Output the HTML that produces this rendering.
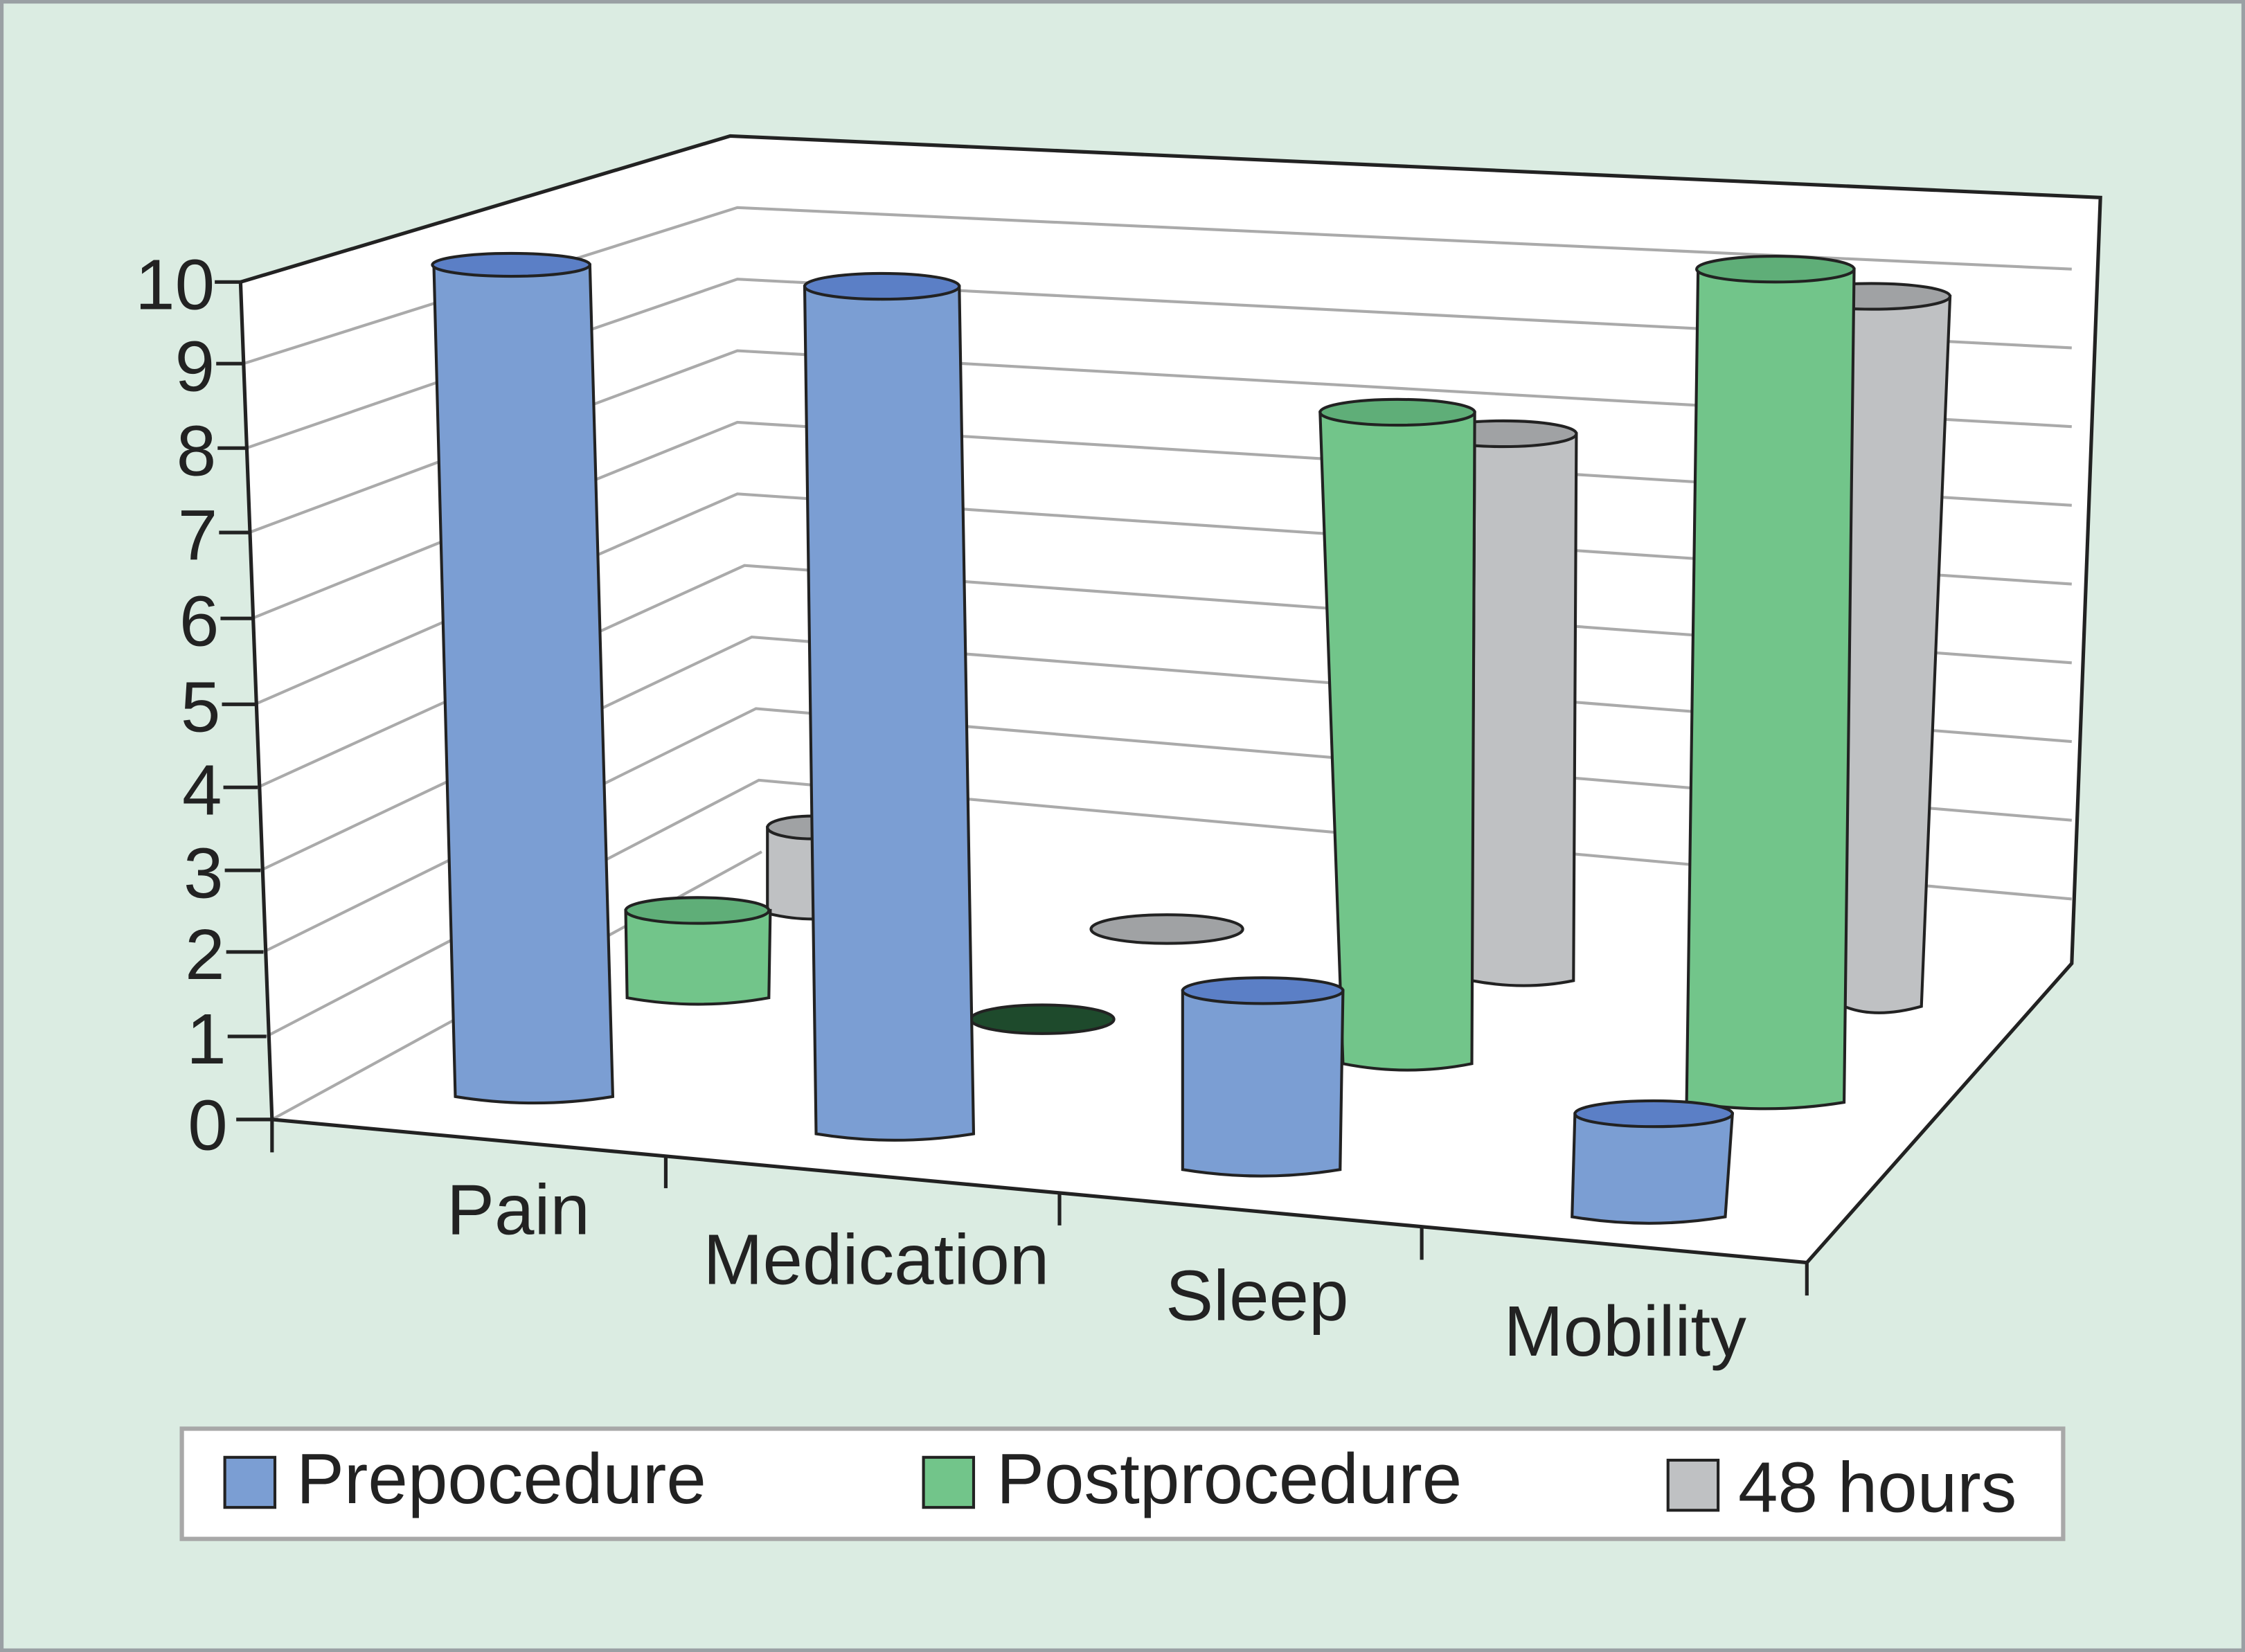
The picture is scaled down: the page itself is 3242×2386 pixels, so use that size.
<!DOCTYPE html>
<html><head><meta charset="utf-8"><style>html,body{margin:0;padding:0;background:#dbece2}svg{display:block}</style></head>
<body>
<svg width="3242" height="2386" viewBox="0 0 1568 1154" xmlns="http://www.w3.org/2000/svg" font-family="Liberation Sans, Arial, sans-serif">
<rect x="0" y="0" width="1568" height="1154" fill="#dbece2"/>
<rect x="1" y="1" width="1566" height="1152" fill="none" stroke="#9aa0a4" stroke-width="3"/>
<polygon points="168,197 510,95 1467,138 1447,673 1262,882 190,782" fill="#fff"/>
<g stroke="#aaa" stroke-width="2" fill="none">
<polyline points="170,254 515,145 1447,188"/>
<polyline points="172,313 515,195 1447,243"/>
<polyline points="174,372 515,245 1447,298"/>
<polyline points="176,432 515,295 1447,353"/>
<polyline points="178,492 515,345 1447,408"/>
<polyline points="180,550 520,395 1447,463"/>
<polyline points="182,608 525,445 1447,518"/>
<polyline points="184,665 528,495 1447,573"/>
<polyline points="186,724 530,545 1447,628"/>
<polyline points="190,782 532,595"/>
</g>
<g stroke="#222" stroke-width="2.5" fill="none">
<polyline points="168,197 510,95 1467,138 1447,673 1262,882 190,782 168,197"/>
<line x1="1262" y1="882" x2="1262" y2="905"/>
<line x1="465" y1="808" x2="465" y2="830"/>
<line x1="740" y1="833" x2="740" y2="856"/>
<line x1="993" y1="857" x2="993" y2="880"/>
<line x1="190" y1="782" x2="190" y2="805"/>
<line x1="150" y1="197" x2="168" y2="197"/><line x1="151" y1="254" x2="170" y2="254"/>
<line x1="152" y1="313" x2="172" y2="313"/><line x1="153" y1="372" x2="174" y2="372"/>
<line x1="154" y1="432" x2="176" y2="432"/><line x1="155" y1="492" x2="178" y2="492"/>
<line x1="156" y1="550" x2="180" y2="550"/><line x1="157" y1="608" x2="182" y2="608"/>
<line x1="158" y1="665" x2="184" y2="665"/><line x1="159" y1="724" x2="186" y2="724"/>
<line x1="165" y1="782" x2="190" y2="782"/>
</g>
<g font-size="50" fill="#222" text-anchor="end">
<text x="150" y="216">10</text><text x="150" y="273">9</text><text x="151" y="332">8</text>
<text x="152" y="391">7</text><text x="153" y="451">6</text><text x="154" y="511">5</text>
<text x="155" y="569">4</text><text x="156" y="627">3</text><text x="157" y="684">2</text>
<text x="158" y="743">1</text><text x="159" y="803">0</text>
</g>
<g stroke="#222" stroke-width="2">
<path d="M536,578 L600,578 L600,638 Q568,646 536,638 Z" fill="#bfc1c3"/>
<ellipse cx="568" cy="578" rx="32" ry="8" fill="#a0a2a4"/>
<path d="M1030,303 L1101,303 L1099,685 Q1065,692 1028,685 Z" fill="#bfc1c3"/>
<ellipse cx="1050" cy="303" rx="51" ry="9" fill="#a0a2a4"/>
<path d="M1252,207 L1362,207 L1342,703 Q1310,712 1288,703 Z" fill="#bfc1c3"/>
<ellipse cx="1307" cy="207" rx="55" ry="9" fill="#a0a2a4"/>
<ellipse cx="815" cy="649" rx="53" ry="10" fill="#a0a2a4"/>
<path d="M437,636 L538,636 L537,697 Q488,706 438,697 Z" fill="#72c58a"/>
<ellipse cx="487" cy="636" rx="50" ry="9" fill="#5fae78"/>
<ellipse cx="728" cy="712" rx="50" ry="10" fill="#1e4a2c"/>
<path d="M922,288 L1030,288 L1028,743 Q983,752 938,743 Z" fill="#72c58a"/>
<ellipse cx="976" cy="288" rx="54" ry="9" fill="#5fae78"/>
<path d="M1186,188 L1295,188 L1288,770 Q1233,779 1178,770 Z" fill="#72c58a"/>
<ellipse cx="1240" cy="188" rx="55" ry="9" fill="#5fae78"/>
<path d="M303,185 L412,185 L428,766 Q373,775 318,766 Z" fill="#7b9ed3"/>
<ellipse cx="357" cy="185" rx="55" ry="8" fill="#5b7fc6"/>
<path d="M562,200 L670,200 L680,792 Q625,801 570,792 Z" fill="#7b9ed3"/>
<ellipse cx="616" cy="200" rx="54" ry="9" fill="#5b7fc6"/>
<path d="M826,692 L938,692 L936,817 Q881,826 826,817 Z" fill="#7b9ed3"/>
<ellipse cx="882" cy="692" rx="56" ry="9" fill="#5b7fc6"/>
<path d="M1100,778 L1210,778 L1205,850 Q1152,859 1098,850 Z" fill="#7b9ed3"/>
<ellipse cx="1155" cy="778" rx="55" ry="9" fill="#5b7fc6"/>
</g>
<g font-size="50" fill="#222" text-anchor="middle">
<text x="362" y="862">Pain</text>
<text x="612" y="897">Medication</text>
<text x="878" y="922">Sleep</text>
<text x="1135" y="947">Mobility</text>
</g>
<rect x="127" y="998" width="1314" height="77" fill="#fff" stroke="#a8a8a8" stroke-width="3"/>
<g stroke="#222" stroke-width="2">
<rect x="157" y="1018" width="35" height="35" fill="#7b9ed3"/>
<rect x="645" y="1018" width="35" height="35" fill="#72c58a"/>
<rect x="1165" y="1020" width="35" height="35" fill="#bfc1c3"/>
</g>
<g font-size="50" fill="#222">
<text x="207" y="1050">Prepocedure</text>
<text x="696" y="1050">Postprocedure</text>
<text x="1214" y="1056">48 hours</text>
</g>
</svg>
</body></html>
